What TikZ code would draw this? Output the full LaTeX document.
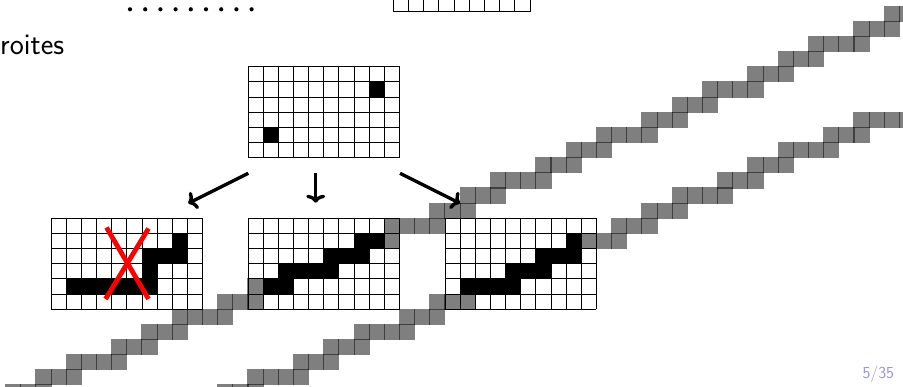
\documentclass[tikz,border=0pt]{standalone}
\usetikzlibrary{arrows.meta}
\definecolor{pagecol}{RGB}{150,150,225}
\newcommand\pixgrid[2]{%
  \foreach \i in {0,...,10} \draw[gridline] (#1+\i,#2) -- (#1+\i,#2+6);
  \foreach \j in {0,...,6} \draw[gridline] (#1,#2+\j) -- (#1+10,#2+\j);
}
\begin{document}
\begin{tikzpicture}[x=1pt,y=-1pt,
  gcell/.style={fill=black,fill opacity=0.5},
  gridline/.style={draw=black,line width=0.9pt},
  bcell/.style={fill=black},
  arr/.style={line width=3.4pt,-{To[length=8pt,width=19pt]}},
  cross/.style={draw=red,line width=4.8pt},
  dotmark/.style={fill=black}]
\useasboundingbox (0,0) rectangle (903,387);
\clip (0,0) rectangle (903,387);

% top leftovers of the previous block
\foreach \k in {0,...,8} \fill[dotmark] (130+15.2*\k,9.3) circle (2.1);
\foreach \k in {0,...,9} \draw[gridline] (393.3+15.2*\k,-2) -- (393.3+15.2*\k,11.7);
\draw[gridline] (393.3,11.7) -- (530.1,11.7);

\begin{scope}[shift={(248pt,-218.3pt)},x=15.15pt,y=-15.15pt]
  \def\ovl{0.035}
  % staircase A
  \foreach \r/\a/\b in {11/-16/-14,10/-14/-12,9/-12/-9,8/-9/-7,7/-7/-5,6/-5/-2,5/-2/0,4/0/2,3/2/5,2/5/7,1/7/9,0/9/12,-1/12/14,-2/14/16,-3/16/19,-4/19/21,-5/21/23,-6/23/26,-7/26/28,-8/28/30,-9/30/33,-10/33/35,-11/35/37,-12/37/40,-13/40/42,-14/42/44}{
    \foreach \c in {\a,...,\b} \fill[gcell] (\c-\ovl,\r-\ovl) rectangle (\c+1+\ovl,\r+1+\ovl);
  }
  % staircase B
  \foreach \r/\a/\b in {11/-2/0,10/0/3,9/3/5,8/5/7,7/7/10,6/10/12,5/12/14,4/14/17,3/17/19,2/19/21,1/21/24,0/24/26,-1/26/28,-2/28/31,-3/31/33,-4/33/35,-5/35/38,-6/38/40,-7/40/43}{
    \foreach \c in {\a,...,\b} \fill[gcell] (\c-\ovl,\r-\ovl) rectangle (\c+1+\ovl,\r+1+\ovl);
  }
  % black pixels
  \foreach \c/\r in {8/-9,1/-6}{\fill[bcell] (\c,\r) rectangle +(1,1);}
  \foreach \c/\r in {-5/1,-7/2,-6/2,-5/2,-7/3,-12/4,-11/4,-10/4,-9/4,-8/4,-7/4}{\fill[bcell] (\c,\r) rectangle +(1,1);}
  \foreach \c/\r in {7/1,8/1,5/2,6/2,7/2,2/3,3/3,4/3,5/3,1/4,2/4}{\fill[bcell] (\c,\r) rectangle +(1,1);}
  \foreach \c/\r in {21/1,19/2,20/2,21/2,17/3,18/3,19/3,14/4,15/4,16/4,17/4}{\fill[bcell] (\c,\r) rectangle +(1,1);}
  % grids
  \pixgrid{0}{-10}
  \pixgrid{-13}{0}
  \pixgrid{0}{0}
  \pixgrid{13}{0}
\end{scope}

% red cross on the rejected line
\draw[cross] (106.5,227.5) -- (148.5,299);
\draw[cross] (148.5,228.5) -- (105.5,299);

% arrows
\coordinate (l0) at (248.3,173.3);
\coordinate (l1) at (188.3,203.3);
\coordinate (m0) at (315.7,173.3);
\coordinate (m1) at (315.7,202.7);
\coordinate (r0) at (400,173.3);
\coordinate (r1) at (460,203.3);
\draw[arr] (l0) -- (l1);
\draw[arr] (m0) -- (m1);
\draw[arr] (r0) -- (r1);

% texts
\node[anchor=base west,inner sep=0,font=\sffamily\fontsize{30}{36}\selectfont] (title) at (0,55) {roites};
\node[anchor=base east,inner sep=0,text=pagecol,font=\sffamily\fontsize{16.8}{20}\selectfont] (page) at (894.3,378.3) {5/35};
\end{tikzpicture}
\end{document}
